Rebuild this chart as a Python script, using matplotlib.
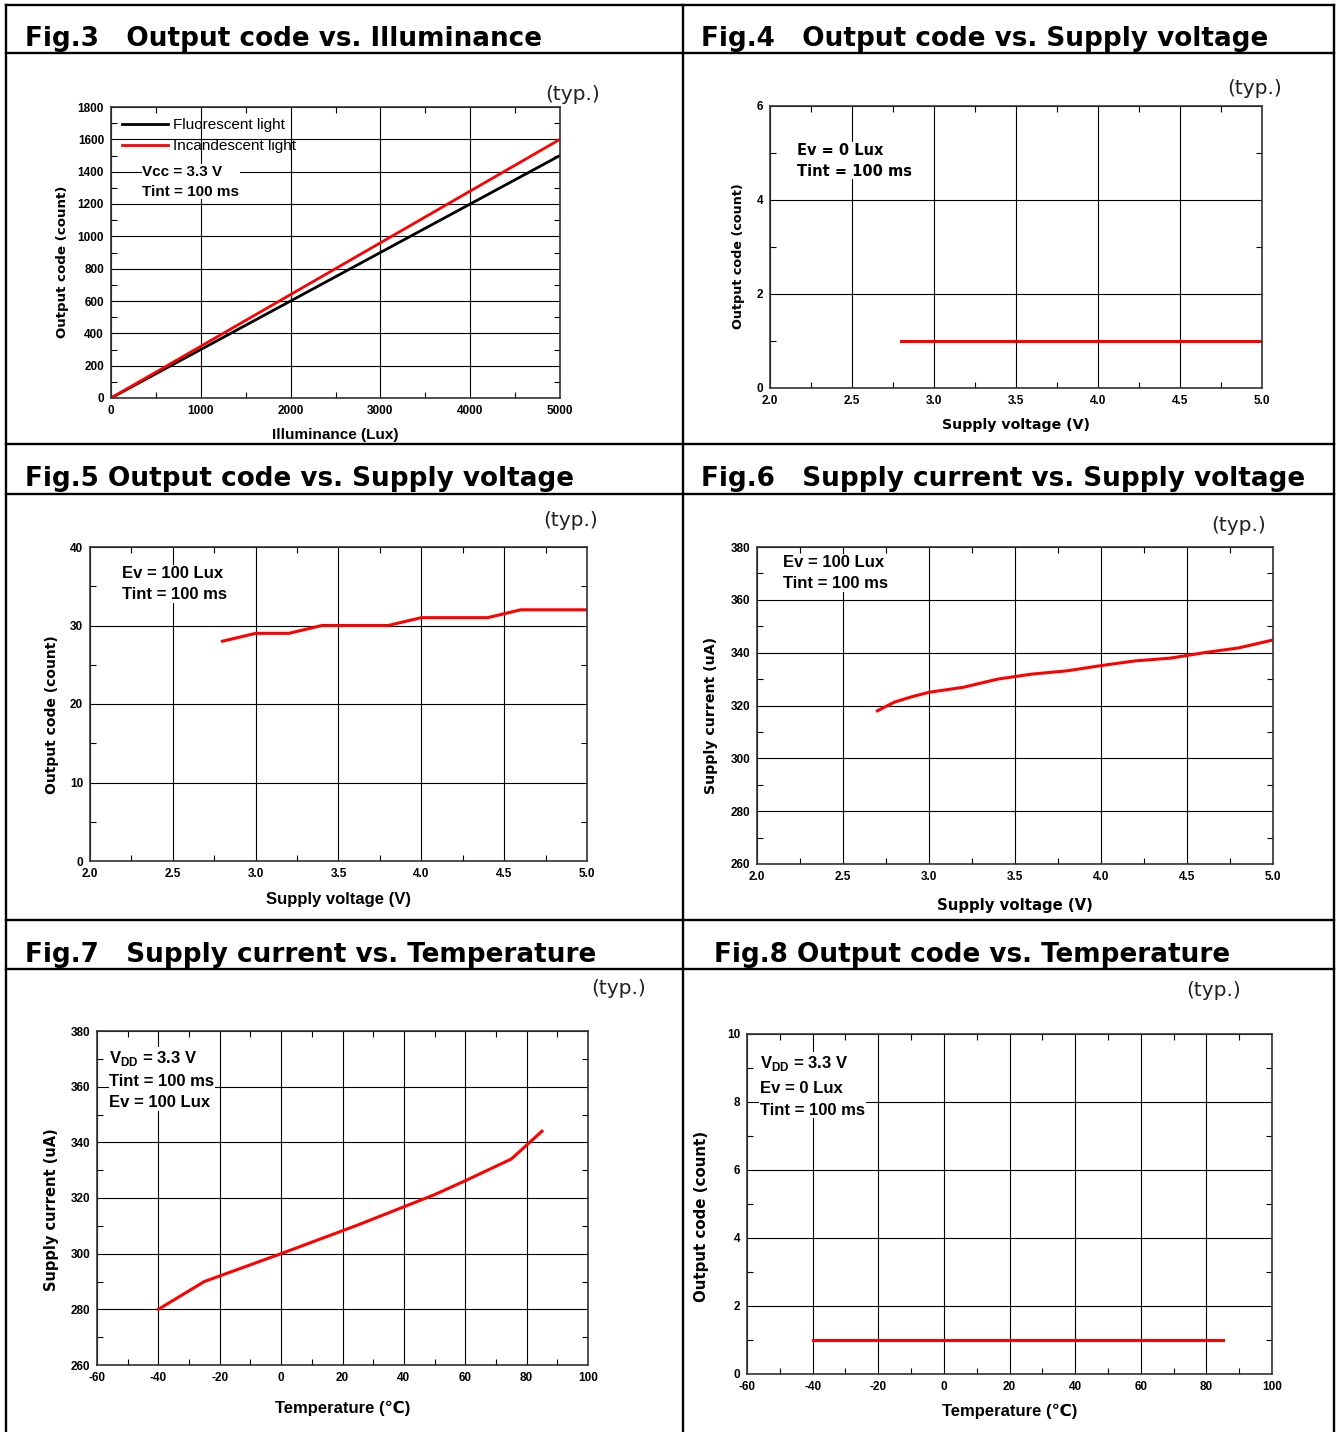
import matplotlib
matplotlib.use('Agg')
import matplotlib.pyplot as plt
from matplotlib.lines import Line2D
from matplotlib.ticker import MultipleLocator

# ---- data ----
# Fig.3 output code vs illuminance
lux = [0, 1000, 2000, 3000, 4000, 5000]
code_fluor = [0, 300, 600, 900, 1200, 1500]
code_incand = [0, 320, 640, 960, 1280, 1600]

# Fig.4 output code vs supply voltage (dark)
vdd4 = [2.8, 3.0, 3.5, 4.0, 4.5, 5.0]
code4 = [1, 1, 1, 1, 1, 1]

# Fig.5 output code vs supply voltage (100 lux)
vdd5 = [2.8, 3.0, 3.2, 3.4, 3.6, 3.8, 4.0, 4.2, 4.4, 4.6, 4.8, 5.0]
code5 = [28, 29, 29, 30, 30, 30, 31, 31, 31, 32, 32, 32]

# Fig.6 supply current vs supply voltage
vdd6 = [2.7, 2.8, 2.9, 3.0, 3.2, 3.4, 3.6, 3.8, 4.0, 4.2, 4.4, 4.6, 4.8, 5.0]
idd6 = [318, 321.3, 323.3, 325, 326.9, 330, 331.9, 333.1, 335.1, 336.9, 337.9, 340, 341.8, 344.8]

# Fig.7 supply current vs temperature
temp7 = [-40, -25, 0, 25, 50, 60, 75, 85]
idd7 = [280, 290, 300, 310.3, 321.2, 326.2, 334, 344]

# Fig.8 output code vs temperature (dark)
temp8 = [-40, -20, 0, 20, 40, 60, 85]
code8 = [1, 1, 1, 1, 1, 1, 1]

W, H = 1342, 1432
RED = '#ff0000'
NARROW = ['Liberation Sans Narrow', 'Liberation Sans', 'DejaVu Sans']
WIDE = ['DejaVu Sans']

plt.rcParams['axes.unicode_minus'] = False

fig = plt.figure(figsize=(W / 100, H / 100), dpi=100)


def fx(x):
    return x / W


def fy(y):
    return 1 - y / H


def hline(y, x0, x1):
    fig.add_artist(Line2D([fx(x0), fx(x1)], [fy(y), fy(y)], color='black', lw=1.7,
                          transform=fig.transFigure))


def vline(x, y0, y1):
    fig.add_artist(Line2D([fx(x), fx(x)], [fy(y0), fy(y1)], color='black', lw=1.7,
                          transform=fig.transFigure))


# table frame
hline(5, 6, 1334)
for yy in [53, 444, 494, 920, 969]:
    hline(yy, 6, 1334)
vline(6, 5, 1432)
vline(683, 5, 1432)
vline(1334, 5, 1432)

titles = [(25, 39, 'Fig.3   Output code vs. Illuminance'),
          (701, 39, 'Fig.4   Output code vs. Supply voltage'),
          (25, 479, 'Fig.5 Output code vs. Supply voltage'),
          (701, 479, 'Fig.6   Supply current vs. Supply voltage'),
          (25, 955, 'Fig.7   Supply current vs. Temperature'),
          (714, 955, 'Fig.8 Output code vs. Temperature')]
for x, y, t in titles:
    fig.text(fx(x), fy(y), t, family=WIDE, weight='bold', fontsize=18.9,
             ha='left', va='center')

typ_pos = [(573, 95), (1255, 89), (571, 521), (1239, 526), (619, 988), (1214, 991)]
for x, y in typ_pos:
    fig.text(fx(x), fy(y), '(typ.)', family=WIDE, fontsize=14.5, ha='center', va='center',
             color='#222222')


def make_ax(l, t, r, b, xlim, ylim, xmaj, ymaj, xfmt=None):
    ax = fig.add_axes([fx(l), fy(b), (r - l) / W, (b - t) / H])
    ax.set_xlim(*xlim)
    ax.set_ylim(*ylim)
    ax.xaxis.set_major_locator(MultipleLocator(xmaj))
    ax.xaxis.set_minor_locator(MultipleLocator(xmaj / 2))
    ax.yaxis.set_major_locator(MultipleLocator(ymaj))
    ax.yaxis.set_minor_locator(MultipleLocator(ymaj / 2))
    if xfmt:
        ax.xaxis.set_major_formatter(xfmt)
    ax.grid(True, which='major', color='black', lw=0.8)
    ax.tick_params(which='both', direction='in', top=True, right=True, width=0.8)
    ax.tick_params(which='major', length=0, pad=5)
    ax.tick_params(which='minor', length=4)
    for lab in ax.get_xticklabels() + ax.get_yticklabels():
        lab.set_family(NARROW)
        lab.set_weight('bold')
        lab.set_fontsize(8.5)
    for s in ax.spines.values():
        s.set_linewidth(1.2)
        s.set_color('#333333')
    return ax


def annotate(ax, x, y, text, wide=False, size=11.5, ls=1.5):
    ax.text(x, y, text, transform=ax.transAxes, family=WIDE if wide else NARROW,
            weight='bold', fontsize=size, ha='left', va='top', linespacing=ls,
            bbox=dict(facecolor='white', edgecolor='none', pad=0.5), zorder=5)


def ylab(ax, text, size, pad, shift_px):
    # the datasheet puts the y label a little below the axes centre
    ax.set_ylabel(text, family=WIDE, weight='bold', fontsize=size, labelpad=pad)
    h = ax.get_position().height * H
    ax.yaxis.label.set_y(0.5 - shift_px / h)


volt_fmt = '{x:.1f}'

# Fig.3
ax3 = make_ax(111, 107, 560, 398, (0, 5000), (0, 1800), 1000, 200)
ax3.yaxis.set_minor_locator(MultipleLocator(100))
ax3.xaxis.set_minor_locator(MultipleLocator(500))
ax3.plot(lux, code_fluor, color='black', lw=2, label='Fluorescent light')
ax3.plot(lux, code_incand, color=RED, lw=2, label='Incandescent light')
ax3.legend(loc='upper left', frameon=False, prop={'family': NARROW, 'size': 11},
           handlelength=3.0, handletextpad=0.3, borderaxespad=0.2, labelspacing=0.45,
           borderpad=0.55)
annotate(ax3, 0.07, 0.80, 'Vcc = 3.3 V\nTint = 100 ms', size=11)
ax3.set_xlabel('Illuminance (Lux)', family=NARROW, weight='bold', fontsize=11, labelpad=8)
ylab(ax3, 'Output code (count)', 9.6, 6, 9)

# Fig.4
ax4 = make_ax(770, 106, 1262, 388, (2, 5), (0, 6), 0.5, 2, volt_fmt)
ax4.plot(vdd4, code4, color=RED, lw=2.2)
annotate(ax4, 0.055, 0.87, 'Ev = 0 Lux\nTint = 100 ms', wide=True, size=10.5)
ax4.set_xlabel('Supply voltage (V)', family=WIDE, weight='bold', fontsize=10.2, labelpad=8)
ylab(ax4, 'Output code (count)', 9.2, 8, 9)

# Fig.5
ax5 = make_ax(90, 547, 587, 861, (2, 5), (0, 40), 0.5, 10, volt_fmt)
ax5.plot(vdd5, code5, color=RED, lw=2.2)
annotate(ax5, 0.065, 0.94, 'Ev = 100 Lux\nTint = 100 ms', size=12)
ax5.set_xlabel('Supply voltage (V)', family=NARROW, weight='bold', fontsize=12, labelpad=9)
ylab(ax5, 'Output code (count)', 10, 8, 11)

# Fig.6
ax6 = make_ax(757, 547, 1273, 864, (2, 5), (260, 380), 0.5, 20, volt_fmt)
ax6.plot(vdd6, idd6, color=RED, lw=2.2)
annotate(ax6, 0.05, 0.975, 'Ev = 100 Lux\nTint = 100 ms', size=12)
ax6.set_xlabel('Supply voltage (V)', family=WIDE, weight='bold', fontsize=10.7, labelpad=11)
ylab(ax6, 'Supply current (uA)', 10.2, 9, 10)

# Fig.7
ax7 = make_ax(97, 1031, 588, 1365, (-60, 100), (260, 380), 20, 20)
ax7.plot(temp7, idd7, color=RED, lw=2.2)
annotate(ax7, 0.025, 0.945, 'V$_{\\mathregular{DD}}$ = 3.3 V\nTint = 100 ms\nEv = 100 Lux', size=12)
ax7.set_xlabel('Temperature (\u2103)', family=NARROW, weight='bold', fontsize=12, labelpad=12)
ylab(ax7, 'Supply current (uA)', 10.5, 8, 12)

# Fig.8
ax8 = make_ax(747, 1034, 1272, 1374, (-60, 100), (0, 10), 20, 2)
ax8.plot(temp8, code8, color=RED, lw=2.2)
annotate(ax8, 0.025, 0.94, 'V$_{\\mathregular{DD}}$ = 3.3 V\nEv = 0 Lux\nTint = 100 ms', size=12,
         ls=1.6)
ax8.set_xlabel('Temperature (\u2103)', family=NARROW, weight='bold', fontsize=12, labelpad=8)
ylab(ax8, 'Output code (count)', 10.8, 13, 12)

fig.savefig('out.png', dpi=100, facecolor='white')
